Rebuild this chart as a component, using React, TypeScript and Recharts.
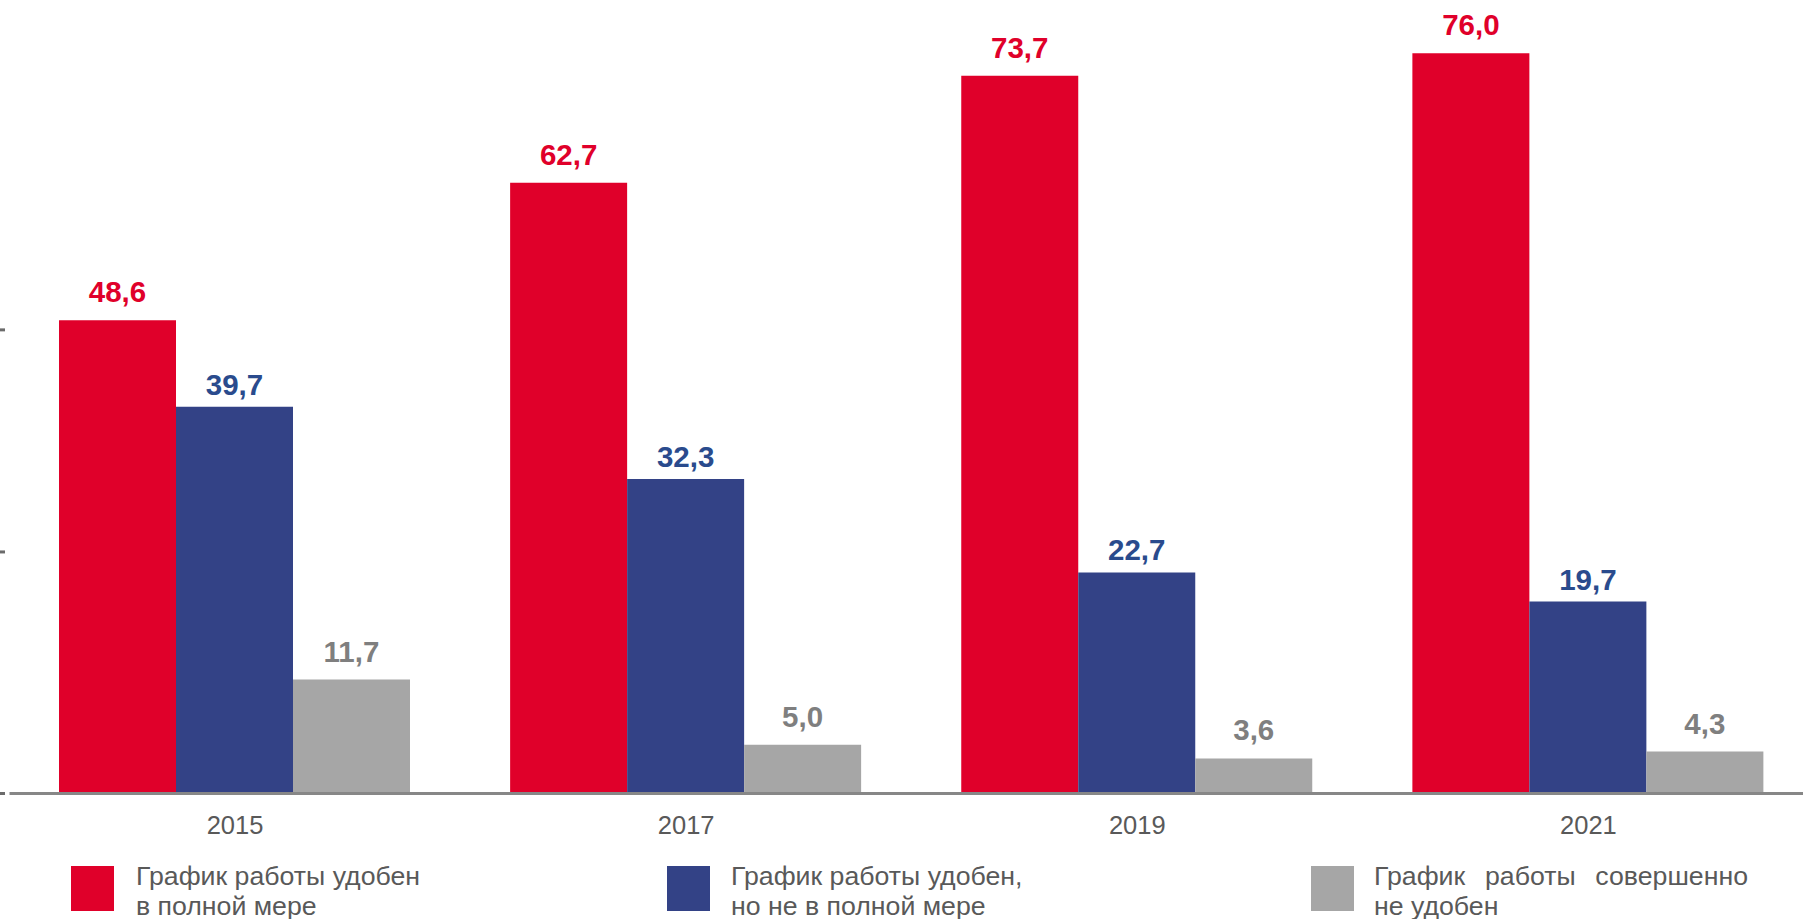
import { BarChart, Bar, XAxis, YAxis, LabelList, Legend } from "recharts";

const years = ["2015", "2017", "2019", "2021"];
const fullyConvenient = [48.6, 62.7, 73.7, 76.0];
const partlyConvenient = [39.7, 32.3, 22.7, 19.7];
const notConvenient = [11.7, 5.0, 3.6, 4.3];
const yTicks = [0, 24.8, 47.6];

const seriesNames = [
  ["График работы удобен", "в полной мере"],
  ["График работы удобен,", "но не в полной мере"],
  ["График работы совершенно", "не удобен"],
];

const data = years.map((year, i) => ({
  year,
  full: fullyConvenient[i],
  partly: partlyConvenient[i],
  none: notConvenient[i],
}));

const FONT = "'Liberation Sans', Arial, sans-serif";
const RED = "#e0002a";
const BLUE = "#334286";
const GRAY = "#a6a6a6";

const fmt = (v: any) => Number(v).toFixed(1).replace(".", ",");

const LeftTick = ({ y }: any) => (
  <line x1={0} x2={5} y1={y} y2={y} stroke="#6b6b6b" strokeWidth={3} />
);

const legendItems = [
  { color: RED, boxX: 71, textX: 136, width: 310, justify: false },
  { color: BLUE, boxX: 667, textX: 731, width: 330, justify: false },
  { color: GRAY, boxX: 1311, textX: 1374, width: 374, justify: true },
];

const ChartLegend = () => (
  <div style={{ position: "relative", width: 1803, height: 64, fontFamily: FONT }}>
    {legendItems.map((item, i) => (
      <div key={i}>
        <div
          style={{
            position: "absolute",
            left: item.boxX,
            top: 5,
            width: 43,
            height: 45,
            background: item.color,
          }}
        />
        <div
          style={{
            position: "absolute",
            left: item.textX,
            top: 0,
            width: item.width,
            fontSize: 26.7,
            lineHeight: "30px",
            color: "#595959",
          }}
        >
          <div
            style={{
              textAlign: item.justify ? "justify" : "left",
              textAlignLast: item.justify ? "justify" : "auto",
              whiteSpace: item.justify ? "normal" : "nowrap",
            }}
          >
            {seriesNames[i][0]}
          </div>
          <div style={{ whiteSpace: "nowrap" }}>{seriesNames[i][1]}</div>
        </div>
      </div>
    ))}
  </div>
);

export default function App() {
  return (
    <div
      style={{
        position: "absolute",
        left: 0,
        top: 0,
        width: 1803,
        height: 919,
        overflow: "hidden",
        background: "#fff",
      }}
    >
      <BarChart
        width={1814}
        height={919}
        data={data}
        margin={{ top: 14.3, right: 0, bottom: 5.5, left: 0 }}
        barCategoryGap={49.5}
        barGap={0}
      >
        <XAxis
          dataKey="year"
          axisLine={{ stroke: "#878787", strokeWidth: 3 }}
          tickLine={false}
          tickSize={6}
          tickMargin={16}
          height={120}
          tick={{ fill: "#595959", fontSize: 25.5, fontFamily: FONT }}
        />
        <YAxis
          width={9.5}
          domain={[0, 80]}
          ticks={yTicks}
          axisLine={false}
          tickLine={false}
          tick={<LeftTick />}
        />
        <Legend
          layout="horizontal"
          verticalAlign="middle"
          align="center"
          wrapperStyle={{ top: 861, left: 0, width: 1803 }}
          content={<ChartLegend />}
        />
        <Bar dataKey="full" fill={RED} isAnimationActive={false}>
          <LabelList
            dataKey="full"
            position="top"
            offset={18}
            formatter={fmt}
            style={{ fill: RED, fontSize: 29.5, fontWeight: 700, fontFamily: FONT }}
          />
        </Bar>
        <Bar dataKey="partly" fill={BLUE} isAnimationActive={false}>
          <LabelList
            dataKey="partly"
            position="top"
            offset={12}
            formatter={fmt}
            style={{ fill: "#2a4b8d", fontSize: 29.5, fontWeight: 700, fontFamily: FONT }}
          />
        </Bar>
        <Bar dataKey="none" fill={GRAY} isAnimationActive={false}>
          <LabelList
            dataKey="none"
            position="top"
            offset={18}
            formatter={fmt}
            style={{ fill: "#7f7f7f", fontSize: 29.5, fontWeight: 700, fontFamily: FONT }}
          />
        </Bar>
      </BarChart>
    </div>
  );
}
